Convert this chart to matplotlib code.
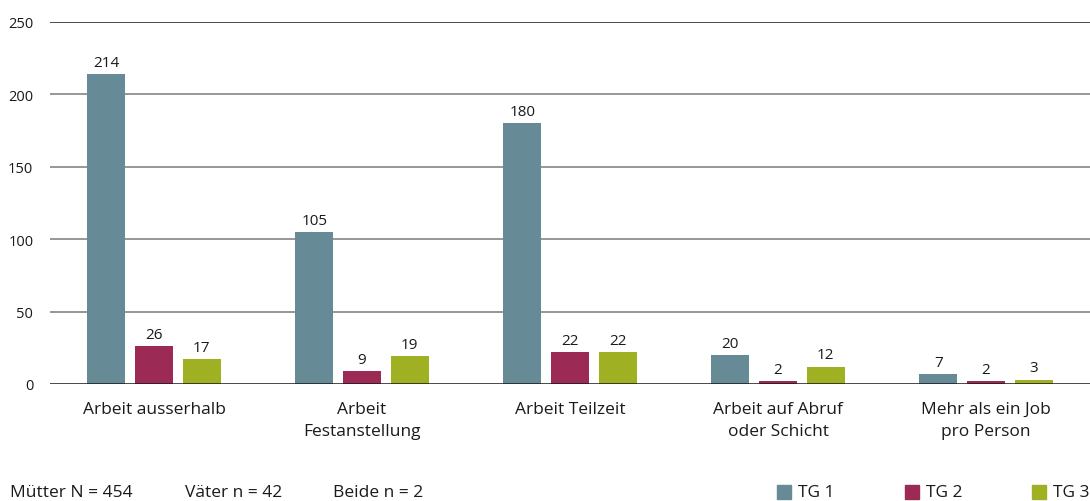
import matplotlib
matplotlib.use("Agg")
import matplotlib.pyplot as plt
import numpy as np
from matplotlib.patches import Rectangle

categories = ["Arbeit ausserhalb", "Arbeit\nFestanstellung", "Arbeit Teilzeit",
              "Arbeit auf Abruf\noder Schicht", "Mehr als ein Job\npro Person"]
series_names = ["TG 1", "TG 2", "TG 3"]
tg1 = [214, 105, 180, 20, 7]
tg2 = [26, 9, 22, 2, 2]
tg3 = [17, 19, 22, 12, 3]
yticks = [0, 50, 100, 150, 200, 250]
footer = ["Mütter N = 454", "Väter n = 42", "Beide n = 2"]

colors = ["#668b96", "#9b2a55", "#9fb123"]
plt.rcParams['font.family'] = ['Open Sans', 'DejaVu Sans']

fig = plt.figure(figsize=(10.9, 5.02), dpi=100)
ax = fig.add_axes([50/1090, 1-385/502, 1-50/1090, (385-23)/502])

x = np.arange(len(categories))
w = 0.183
off = 0.229
for i, (vals, c) in enumerate(zip([tg1, tg2, tg3], colors)):
    pos = x + (i-1)*off
    ax.bar(pos, vals, width=w, color=c, zorder=3)
    for p, v in zip(pos, vals):
        ax.text(p, v + 3, str(v), ha='center', va='bottom', fontsize=11, color='#1a1a1a', zorder=4)

ax.set_xlim(-0.5, 4.5)
ax.set_ylim(0, 250)
for yt in yticks:
    col = '#1a1a1a' if yt in (0, 250) else '#7a7a7a'
    ax.axhline(yt, color=col, lw=1.1, zorder=2 if yt else 5)
for s in ax.spines.values():
    s.set_visible(False)
ax.set_yticks(yticks)
ax.set_yticklabels([str(t) for t in yticks], fontsize=10.5, color='#1a1a1a')
ax.tick_params(axis='y', length=0, pad=12)
ax.set_xticks(x)
ax.set_xticklabels(categories, fontsize=12.5, color='#1a1a1a', linespacing=1.55)
ax.tick_params(axis='x', length=0, pad=12)

fy = 1 - 493/502
fx = [10, 185, 333]
for t, px in zip(footer, fx):
    fig.text(px/1090, fy, t, fontsize=12.5, color='#1a1a1a', va='center', ha='left')

lx = [777, 905, 1032]
for name, c, px in zip(series_names, colors, lx):
    fig.patches.append(Rectangle((px/1090, fy - 7/502), 14/1090, 14/502,
                                 transform=fig.transFigure, color=c, figure=fig))
    fig.text((px+21)/1090, fy, name, fontsize=12.5, color='#1a1a1a', va='center', ha='left')

fig.savefig("out.png", dpi=100)
